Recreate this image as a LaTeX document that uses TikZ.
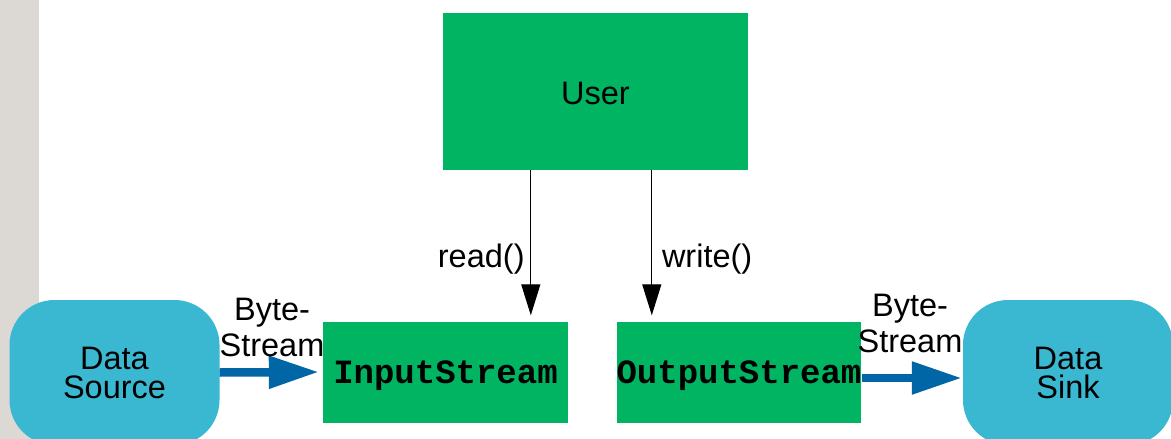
\documentclass[tikz,border=0pt]{standalone}
\usepackage{fontspec}
\setmainfont{Liberation Sans}
\newfontfamily\codefont{Liberation Mono}
\usetikzlibrary{arrows.meta,calc}

\definecolor{boxgreen}{HTML}{00B462}
\definecolor{endcyan}{HTML}{3AB8D2}
\definecolor{flowblue}{HTML}{0066A6}
\definecolor{sidegray}{HTML}{DCD8D4}

\tikzset{
  greenbox/.style={fill=boxgreen, draw=none, inner sep=0pt},
  endbox/.style={fill=endcyan, draw=none, rounded corners=45pt, inner sep=0pt,
    minimum width=210pt, minimum height=145pt, align=center,
    font=\fontsize{32.5}{29}\selectfont},
  codetext/.style={font=\codefont\bfseries\fontsize{34}{36}\selectfont,
    text height=22pt, text depth=0pt},
  callarrow/.style={draw=black, line width=1.2pt, -{Triangle[length=31pt,width=19pt]}},
  flowarrow/.style={draw=flowblue, line width=8.5pt, -{Triangle[length=50pt,width=31pt]}},
  flowlabel/.style={align=center, inner sep=0pt, font=\fontsize{32.5}{36}\selectfont},
  calllabel/.style={inner sep=0pt, font=\fontsize{32.5}{36}\selectfont}
}

\begin{document}
\begin{tikzpicture}[x=1pt,y=-1pt]
  \useasboundingbox (0,0) rectangle (1171,439);
  \fill[white] (0,0) rectangle (1171,439);
  % side strip
  \fill[sidegray] (0,0) rectangle (39,439);

  % boxes
  \node[greenbox, minimum width=305pt, minimum height=157pt,
        font=\fontsize{32.5}{36}\selectfont, text height=25pt, text depth=0pt]
        (user) at (595.5,91.5) {User};
  \node[greenbox, minimum width=245pt, minimum height=101pt, codetext] (in) at (445.5,372) {InputStream};
  \node[greenbox, minimum width=244pt, minimum height=101pt, codetext] (out) at (739,372) {OutputStream};
  \node[endbox] (src) at (114.5,372.5) {Data\\Source};
  \node[endbox] (sink) at (1068,372.5) {Data\\Sink};

  % method calls
  \coordinate (rtop) at ($(user.south west)+(88,0)$);
  \coordinate (wtop) at ($(user.south west)+(209,0)$);
  \draw[callarrow, shorten >=6pt] (rtop) -- (rtop |- in.north);
  \draw[callarrow, shorten >=6pt] (wtop) -- (wtop |- out.north);
  \node[calllabel, anchor=base east] (readlbl) at ($(rtop)+(-6,97)$) {read()};
  \node[calllabel, anchor=base west] (writelbl) at ($(wtop)+(10,97)$) {write()};

  % byte streams
  \draw[flowarrow, shorten >=4pt] (src.east) -- (in.west);
  \draw[flowarrow, shorten >=1pt] ([yshift=-6pt]out.east) -- ([yshift=-6pt]out.east -| sink.west);
  \node[flowlabel] (lbyte) at (272,327) {Byte-\\Stream};
  \node[flowlabel] (rbyte) at (910,323) {Byte-\\Stream};
\end{tikzpicture}
\end{document}
